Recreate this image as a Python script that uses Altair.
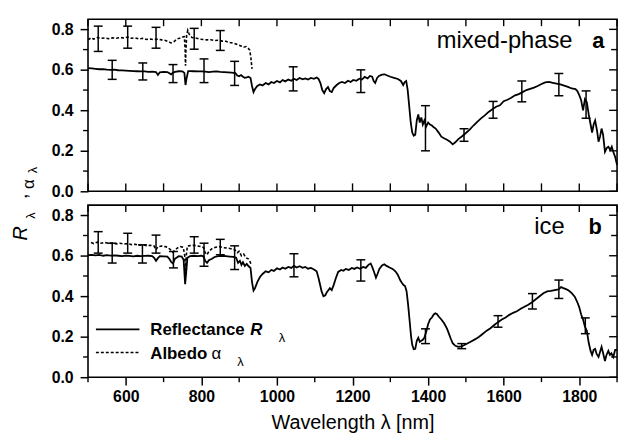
import altair as alt
import pandas as pd

FONT = "Liberation Sans"
W, H = 535, 174

# ---------------- panel a (mixed-phase) ----------------
a_refl_wl = [500, 510, 520, 530, 540, 550, 560, 570, 580, 590, 600, 610, 620, 630, 640, 650, 660, 670, 680, 685,
             690, 700, 710, 720, 725, 730, 740, 750, 755, 758, 761, 765, 770, 780, 790, 800, 810, 820, 830, 840,
             850, 860, 870, 880, 890, 895, 900, 905, 910, 915, 920, 925, 930, 934, 938, 942, 948, 955, 962, 970,
             978, 985, 992, 1000, 1008, 1015, 1022, 1030, 1038, 1045, 1052, 1060, 1068, 1075, 1082, 1090, 1098,
             1105, 1110, 1115, 1120, 1125, 1130, 1135, 1140, 1145, 1150, 1158, 1165, 1172, 1180, 1188, 1195, 1202,
             1210, 1218, 1225, 1232, 1240, 1246, 1252, 1256, 1260, 1265, 1270, 1278, 1285, 1292, 1300, 1310, 1320,
             1328, 1334, 1338, 1342, 1346, 1350, 1354, 1358, 1362, 1366, 1370, 1374, 1378, 1382, 1386, 1390, 1395,
             1400, 1405, 1410, 1415, 1420, 1428, 1435, 1442, 1450, 1458, 1465, 1472, 1480, 1490, 1500, 1510, 1520,
             1530, 1540, 1550, 1560, 1570, 1580, 1590, 1600, 1610, 1620, 1630, 1640, 1650, 1660, 1670, 1680, 1690,
             1700, 1710, 1720, 1730, 1740, 1750, 1760, 1770, 1780, 1790, 1795, 1800, 1805, 1810, 1815, 1820, 1825,
             1830, 1834, 1838, 1842, 1847, 1851, 1855, 1859, 1863, 1868, 1873, 1877, 1882, 1886, 1890, 1895, 1900]
a_refl_v = [.608, .607, .605, .603, .604, .601, .600, .601, .598, .597, .596, .595, .594, .593, .592, .592, .590, .591,
            .589, .575, .588, .590, .589, .578, .586, .590, .593, .592, .585, .525, .560, .594, .594, .593, .592, .592,
            .591, .589, .591, .592, .590, .589, .588, .586, .584, .572, .568, .574, .566, .561, .563, .566, .560, .520,
            .490, .505, .520, .528, .523, .535, .528, .540, .535, .545, .538, .550, .543, .552, .546, .556, .550, .560,
            .553, .558, .552, .560, .556, .562, .555, .535, .500, .485, .505, .515, .495, .490, .510, .525, .535, .540,
            .535, .546, .540, .550, .546, .556, .552, .565, .558, .570, .566, .545, .535, .560, .570, .576, .578, .572,
            .566, .560, .555, .545, .525, .540, .545, .500, .420, .340, .290, .275, .280, .350, .380, .340, .365, .330,
            .350, .320, .340, .330, .325, .316, .310, .290, .270, .262, .255, .245, .232, .242, .258, .272, .288, .305,
            .325, .343, .360, .375, .392, .405, .418, .425, .445, .452, .462, .474, .480, .490, .500, .506, .512, .520,
            .530, .538, .540, .536, .532, .528, .522, .516, .508, .505, .495, .475, .450, .400, .455, .440, .380, .330,
            .290, .330, .350, .300, .245, .270, .310, .280, .195, .215, .220, .205, .220, .195, .170, .130]

a_alb_wl = [500, 508, 515, 525, 535, 545, 555, 565, 575, 585, 595, 605, 615, 625, 635, 645, 655, 665, 675, 685, 695,
            705, 712, 720, 728, 735, 742, 750, 755, 757, 758, 759, 761, 764, 768, 775, 785, 795, 805, 815, 825, 835,
            845, 855, 865, 875, 885, 895, 905, 912, 918, 924, 928, 931, 934]
a_alb_v = [.748, .758, .752, .760, .756, .758, .754, .758, .756, .760, .757, .762, .756, .758, .753, .756, .750, .752,
           .749, .752, .748, .745, .740, .733, .740, .752, .756, .762, .764, .700, .620, .690, .770, .795, .775, .760,
           .757, .752, .750, .748, .749, .745, .746, .742, .741, .735, .732, .725, .718, .712, .715, .706, .698, .660,
           .605]

a_rbar_wl = [564, 645, 725, 807, 888, 1043, 1222, 1393, 1495, 1572, 1648, 1746, 1818]
a_rbar_lo = [.553, .550, .537, .537, .523, .496, .488, .200, .247, .361, .442, .472, .361]
a_rbar_hi = [.647, .634, .626, .654, .642, .615, .600, .423, .309, .444, .545, .582, .496]

a_abar_wl = [527, 605, 680, 781, 850]
a_abar_lo = [.691, .707, .707, .702, .696]
a_abar_hi = [.816, .816, .810, .805, .794]

# ---------------- panel b (ice) ----------------
b_refl_wl = [500, 510, 520, 530, 540, 550, 560, 570, 580, 590, 600, 610, 620, 630, 640, 650, 660, 670, 675, 680, 685,
             690, 700, 710, 715, 720, 725, 730, 740, 748, 753, 757, 760, 763, 770, 780, 790, 800, 806, 810, 815, 820,
             828, 835, 845, 855, 865, 875, 885, 892, 897, 902, 906, 910, 915, 920, 925, 930, 934, 938, 942, 948, 955,
             962, 970, 978, 985, 992, 1000, 1008, 1015, 1022, 1030, 1038, 1045, 1052, 1060, 1068, 1075, 1082, 1090,
             1098, 1105, 1110, 1114, 1118, 1123, 1128, 1132, 1136, 1140, 1145, 1150, 1156, 1162, 1170, 1176, 1182,
             1190, 1198, 1205, 1212, 1220, 1228, 1235, 1242, 1248, 1252, 1257, 1262, 1266, 1271, 1278, 1284, 1290,
             1298, 1306, 1314, 1320, 1326, 1330, 1335, 1339, 1343, 1347, 1351, 1355, 1358, 1362, 1366, 1370, 1374,
             1378, 1382, 1386, 1390, 1395, 1400, 1405, 1410, 1415, 1419, 1423, 1428, 1435, 1442, 1450, 1455, 1460,
             1465, 1472, 1480, 1488, 1495, 1505, 1515, 1525, 1535, 1545, 1555, 1565, 1575, 1585, 1595, 1605, 1615,
             1625, 1635, 1645, 1655, 1665, 1675, 1685, 1695, 1705, 1715, 1725, 1735, 1745, 1752, 1758, 1765, 1772,
             1780, 1788, 1795, 1800, 1805, 1810, 1815, 1820, 1825, 1830, 1834, 1838, 1842, 1846, 1851, 1855, 1859,
             1863, 1868, 1872, 1877, 1881, 1885, 1890, 1895, 1900]
b_refl_v = [.603, .604, .602, .604, .600, .603, .601, .602, .600, .598, .601, .599, .597, .600, .598, .599, .600, .598,
            .590, .575, .588, .598, .597, .596, .585, .570, .562, .585, .598, .596, .580, .460, .520, .590, .598, .600,
            .598, .600, .596, .575, .565, .578, .585, .594, .598, .600, .598, .596, .594, .590, .565, .575, .555, .568,
            .550, .560, .548, .540, .470, .428, .440, .470, .495, .510, .523, .518, .530, .525, .538, .532, .542, .536,
            .545, .540, .550, .542, .548, .540, .545, .536, .540, .532, .523, .490, .458, .425, .400, .405, .420, .430,
            .440, .430, .455, .490, .520, .530, .526, .535, .530, .540, .535, .542, .536, .545, .540, .555, .562, .545,
            .520, .492, .510, .535, .552, .558, .550, .542, .535, .522, .505, .480, .468, .455, .450, .425, .360, .280,
            .200, .160, .138, .140, .180, .195, .175, .180, .185, .195, .225, .262, .285, .295, .310, .316, .312, .300,
            .285, .268, .240, .215, .190, .168, .155, .150, .152, .158, .168, .178, .188, .200, .215, .230, .242, .258,
            .272, .285, .295, .308, .318, .326, .338, .348, .358, .370, .385, .400, .415, .424, .426, .430, .434, .445,
            .440, .435, .428, .415, .398, .370, .345, .310, .285, .250, .230, .170, .130, .110, .135, .140, .115, .100,
            .125, .150, .120, .080, .110, .130, .110, .118, .100, .135, .135]

b_alb_wl = [508, 515, 525, 535, 545, 555, 565, 575, 585, 595, 605, 615, 625, 635, 645, 655, 665, 675, 680, 685, 695,
            705, 712, 718, 724, 730, 738, 745, 752, 756, 758, 760, 763, 770, 780, 790, 800, 806, 810, 815, 820, 828,
            838, 848, 858, 868, 878, 888, 895, 900, 906, 912, 918, 924, 928, 932]
b_alb_v = [.665, .660, .667, .662, .666, .660, .664, .658, .662, .658, .660, .655, .657, .652, .655, .650, .652, .648,
           .630, .645, .648, .645, .640, .630, .618, .628, .640, .645, .642, .600, .520, .600, .648, .650, .652, .648,
           .645, .640, .615, .605, .622, .635, .642, .645, .640, .638, .635, .630, .615, .622, .600, .608, .590, .585,
           .575, .555]

b_rbar_wl = [564, 644, 726, 807, 888, 1045, 1222, 1393, 1489, 1585, 1676, 1746, 1816]
b_rbar_lo = [.564, .564, .540, .548, .532, .496, .475, .166, .141, .247, .337, .389, .215]
b_rbar_hi = [.662, .654, .621, .662, .649, .610, .580, .239, .166, .304, .413, .480, .293]

b_abar_wl = [527, 605, 680, 781, 850]
b_abar_lo = [.613, .613, .613, .613, .605]
b_abar_hi = [.719, .711, .702, .694, .681]

# ---------------- axis ticks / labels ----------------
x_label_ticks = [600, 800, 1000, 1200, 1400, 1600, 1800]
x_all_ticks = [500, 600, 700, 800, 900, 1000, 1100, 1200, 1300, 1400, 1500, 1600, 1700, 1800, 1900]
x_minor_ticks = [500, 700, 900, 1100, 1300, 1500, 1700, 1900]
y_major_ticks = [0.0, 0.2, 0.4, 0.6, 0.8]
y_minor_ticks = [0.1, 0.3, 0.5, 0.7]

x_title = "Wavelength λ [nm]"
panel_names = ["mixed-phase", "ice"]
panel_letters = ["a", "b"]

x_scale = alt.Scale(domain=[500, 1900], nice=False, zero=False)
y_scale = alt.Scale(domain=[0, 0.85], nice=False, zero=False)

y_axis = alt.Axis(values=y_major_ticks, format=".1f", tickSize=8, tickWidth=1.5, tickColor="black",
                  labelFont=FONT, labelFontSize=16, labelFontWeight="bold", labelColor="black",
                  labelPadding=7, domain=False, grid=False, title=None)
x_axis_bottom = alt.Axis(values=x_label_ticks, format="d", tickSize=8, tickWidth=1.5, tickColor="black",
                         labelFont=FONT, labelFontSize=16, labelFontWeight="bold", labelColor="black",
                         labelPadding=4, domain=False, grid=False, title=x_title, titleFont=FONT,
                         titleFontSize=20, titleFontWeight="normal", titleColor="black", titlePadding=8)


def X(field, axis):
    return alt.X(field, type="quantitative", scale=x_scale, axis=axis)


def Y(field):
    return alt.Y(field, type="quantitative", scale=y_scale, axis=y_axis)


def text_layer(label, x, y, size, weight="normal", style="normal", align="left", angle=0):
    return alt.Chart(pd.DataFrame({"t": [label]})).mark_text(
        font=FONT, fontSize=size, fontWeight=weight, fontStyle=style, align=align,
        baseline="alphabetic", angle=angle, color="black"
    ).encode(x=alt.value(x), y=alt.value(y), text="t:N")


def panel(refl_wl, refl_v, alb_wl, alb_v, rb, ab, x_axis, bottom_inward, name, letter, name_x, letter_x):
    refl = pd.DataFrame({"wl": refl_wl, "v": refl_v})
    alb = pd.DataFrame({"wl": alb_wl, "v": alb_v})
    layers = []
    layers.append(alt.Chart(refl).mark_line(color="black", strokeWidth=1.8).encode(
        x=X("wl", x_axis), y=Y("v")))
    layers.append(alt.Chart(alb).mark_line(color="black", strokeWidth=1.6, strokeDash=[3, 2]).encode(
        x=X("wl", x_axis), y=Y("v")))
    for wl, lo, hi in (rb, ab):
        bars = pd.DataFrame({"wl": wl, "lo": lo, "hi": hi})
        base = alt.Chart(bars)
        layers.append(base.mark_rule(color="black", strokeWidth=1.5, opacity=1).encode(
            x=X("wl", x_axis), y=Y("lo"), y2="hi"))
        layers.append(base.mark_tick(color="black", orient="horizontal", size=9, thickness=1.5,
                                     opacity=1).encode(x=X("wl", x_axis), y=Y("lo")))
        layers.append(base.mark_tick(color="black", orient="horizontal", size=9, thickness=1.5,
                                     opacity=1).encode(x=X("wl", x_axis), y=Y("hi")))
    # frame ticks
    xt = alt.Chart(pd.DataFrame({"wl": x_all_ticks}))
    layers.append(xt.mark_rule(color="black", strokeWidth=1.4).encode(
        x=X("wl", x_axis), y=alt.value(0), y2=alt.value(7)))
    if bottom_inward:
        layers.append(xt.mark_rule(color="black", strokeWidth=1.4).encode(
            x=X("wl", x_axis), y=alt.value(H), y2=alt.value(H - 8)))
    else:
        xm = alt.Chart(pd.DataFrame({"wl": x_minor_ticks}))
        layers.append(xm.mark_rule(color="black", strokeWidth=1.4).encode(
            x=X("wl", x_axis), y=alt.value(H), y2=alt.value(H + 5)))
    ym = alt.Chart(pd.DataFrame({"v": y_major_ticks}))
    yn = alt.Chart(pd.DataFrame({"v": y_minor_ticks}))
    layers.append(ym.mark_rule(color="black", strokeWidth=1.4).encode(
        y=Y("v"), x=alt.value(W), x2=alt.value(W - 8)))
    layers.append(yn.mark_rule(color="black", strokeWidth=1.4).encode(
        y=Y("v"), x=alt.value(W), x2=alt.value(W - 6)))
    layers.append(yn.mark_rule(color="black", strokeWidth=1.4).encode(
        y=Y("v"), x=alt.value(0), x2=alt.value(-5)))
    layers.append(text_layer(name, name_x, 29.5, 24, align="right"))
    layers.append(text_layer(letter, letter_x, 29.5, 22, weight="bold"))
    return layers


layers_a = panel(a_refl_wl, a_refl_v, a_alb_wl, a_alb_v,
                 (a_rbar_wl, a_rbar_lo, a_rbar_hi), (a_abar_wl, a_abar_lo, a_abar_hi),
                 None, True, panel_names[0], panel_letters[0], 490, 510)
layers_b = panel(b_refl_wl, b_refl_v, b_alb_wl, b_alb_v,
                 (b_rbar_wl, b_rbar_lo, b_rbar_hi), (b_abar_wl, b_abar_lo, b_abar_hi),
                 x_axis_bottom, False, panel_names[1], panel_letters[1], 482, 506)

# legend (panel b)
leg = alt.Chart(pd.DataFrame({"k": [0]}))
layers_b.append(leg.mark_rule(color="black", strokeWidth=1.8).encode(
    x=alt.value(8), x2=alt.value(52), y=alt.value(125.7)))
layers_b.append(leg.mark_rule(color="black", strokeWidth=1.6, strokeDash=[3, 2]).encode(
    x=alt.value(8), x2=alt.value(52), y=alt.value(149)))
layers_b.append(text_layer("Reflectance", 63, 131.5, 17, weight="bold"))
layers_b.append(text_layer("R", 164, 131.5, 17, weight="bold", style="italic"))
layers_b.append(text_layer("λ", 193, 138.5, 13))
layers_b.append(text_layer("Albedo", 63, 155.5, 17, weight="bold"))
layers_b.append(text_layer("α", 125, 155.5, 17))
layers_b.append(text_layer("λ", 151, 162.5, 13))

# y-axis title R_λ, α_λ (rotated)
layers_b.append(text_layer("R", -61.7, 35.7, 20, style="italic", angle=270))
layers_b.append(text_layer("λ", -53.7, 13.7, 13, angle=270))
layers_b.append(text_layer(",", -61.7, -6.3, 20, angle=270))
layers_b.append(text_layer("α", -54.7, -16.3, 17, angle=270))
layers_b.append(text_layer("λ", -51.7, -32.3, 13, angle=270))

panel_a = alt.layer(*layers_a).properties(width=W, height=H)
panel_b = alt.layer(*layers_b).properties(width=W, height=H)

chart = alt.vconcat(panel_a, panel_b, spacing=14, bounds="flush").properties(
    padding={"left": 10, "top": 15, "right": 0, "bottom": 0},
    background="white",
).configure_view(stroke="black", strokeWidth=1.6)

chart.save("out.html", embed_options={"renderer": "svg", "actions": False})
